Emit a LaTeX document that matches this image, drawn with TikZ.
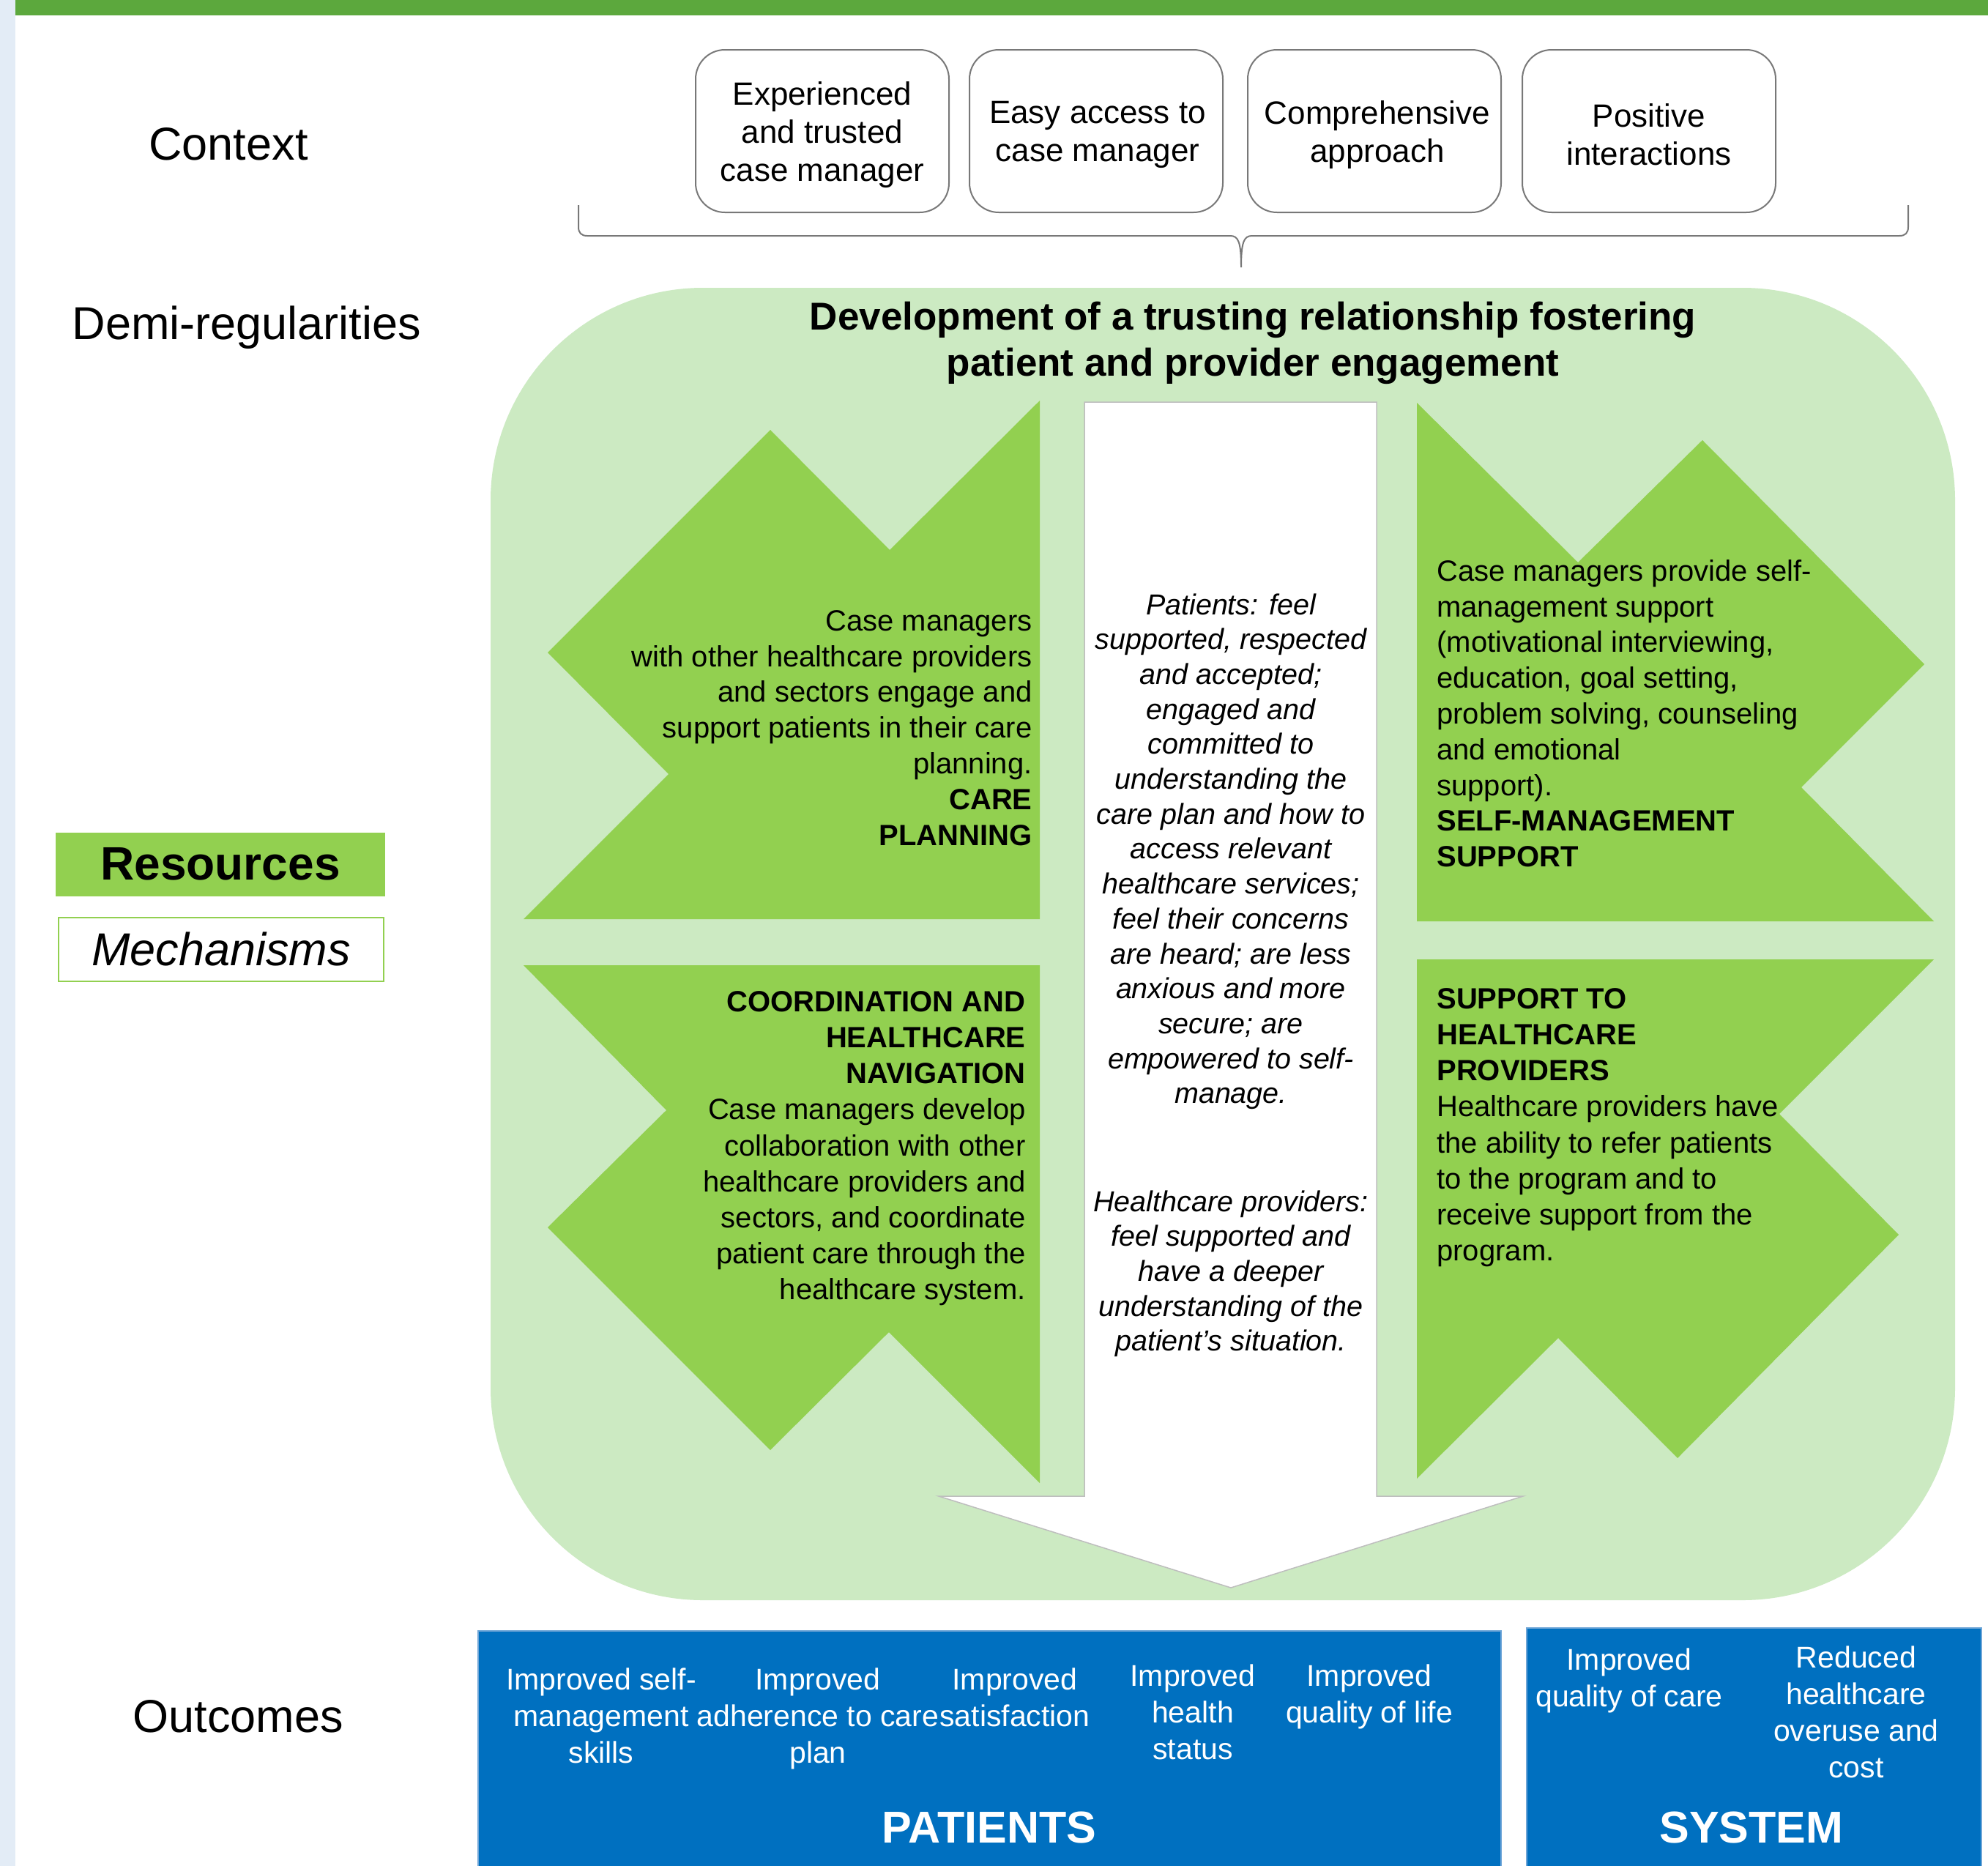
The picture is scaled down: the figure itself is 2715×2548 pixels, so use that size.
\documentclass[tikz,border=0pt]{standalone}
\usepackage{fontspec}
\setmainfont{Liberation Sans}
\definecolor{lgreen}{RGB}{204,234,194}
\definecolor{mgreen}{RGB}{146,208,80}
\definecolor{topgreen}{RGB}{92,168,61}
\definecolor{stripblue}{RGB}{227,236,246}
\definecolor{outblue}{RGB}{0,112,192}
\definecolor{outedge}{RGB}{110,165,215}
\definecolor{ctxgray}{RGB}{120,120,120}
\definecolor{shaftgray}{RGB}{190,190,190}
\tikzset{
  lbl/.style={inner sep=0, font=\fontsize{31.5}{38}\selectfont},
  ctxbox/.style={draw=ctxgray, line width=1pt, rounded corners=20pt, minimum width=173pt, minimum height=111pt, inner sep=0},
  ctxtxt/.style={inner sep=0, align=center, font=\fontsize{22}{26}\selectfont},
  gtxt/.style={inner sep=0, font=\fontsize{20}{24.4}\selectfont},
  itxt/.style={inner sep=0, align=center, font=\fontsize{19.75}{23.85}\selectfont\itshape},
  otxt/.style={inner sep=0, align=center, text=white, font=\fontsize{20.5}{25}\selectfont},
  obig/.style={inner sep=0, text=white, font=\fontsize{30.5}{36}\selectfont\bfseries},
  gshape/.style={fill=mgreen},
  outbox/.style={fill=outblue, draw=outedge, line width=0.75pt},
}
\begin{document}
\begin{tikzpicture}[x=0.5pt,y=-0.5pt]
\useasboundingbox (0,0) rectangle (2715,2548);
\fill[white] (0,0) rectangle (2715,2548);
\fill[stripblue] (0,0) rectangle (21,2548);
\fill[topgreen] (21,0) rectangle (2715,21);

% side labels
\node[lbl, anchor=base] (ctxlbl) at (312,218) {Context};
\node[lbl, anchor=base] (demilbl) at (337,463) {Demi-regularities};
\node[lbl, anchor=base] (outlbl) at (325,2365) {Outcomes};

% context boxes
\node[ctxbox] (c1) at (1123,179) {};
\node[ctxbox] (c2) at (1497,179) {};
\node[ctxbox] (c3) at (1877,179) {};
\node[ctxbox] (c4) at (2252,179) {};
\node[ctxtxt] (c1t) at ([yshift=-2.5pt]c1.center) {Experienced\\and trusted\\case manager};
\node[ctxtxt] (c2t) at ([xshift=1pt,yshift=-2.5pt]c2.center) {Easy access to\\case manager};
\node[ctxtxt] (c3t) at ([xshift=2pt,yshift=-2.5pt]c3.center) {Comprehensive\\approach};
\node[ctxtxt] (c4t) at ([yshift=-2.5pt]c4.center) {Positive\\interactions};

% brace
\draw[ctxgray, line width=1pt] (790,280) -- (790,310) .. controls (790,318) and (794,322) .. (802,322)
  -- (1680,322) .. controls (1691,322) and (1695,330) .. (1695,365)
  .. controls (1695,330) and (1699,322) .. (1710,322)
  -- (2594,322) .. controls (2602,322) and (2606,318) .. (2606,310) -- (2606,280);

% big region
\fill[lgreen, rounded corners=145pt] (670,393) rectangle (2670,2185);

% green shapes
\fill[gshape] (1420,547) -- (1420,1255) -- (715,1255) -- (913,1057) -- (748,891) -- (1052,587) -- (1215,751) -- cycle;
\fill[gshape] (1935,550) -- (2155,768) -- (2325,601) -- (2628,907) -- (2460,1075) -- (2641,1258) -- (1935,1258) -- cycle;
\fill[gshape] (715,1318) -- (1420,1318) -- (1420,2025) -- (1214,1819) -- (1052,1980) -- (748,1676) -- (910,1516) -- cycle;
\fill[gshape] (1935,1310) -- (2641,1310) -- (2430,1521) -- (2593,1686) -- (2291,1991) -- (2128,1827) -- (1935,2019) -- cycle;

% white arrow
\draw[fill=white, draw=shaftgray, line width=0.75pt] (1481,549) -- (1880,549) -- (1880,2043) -- (2080,2043) -- (1681,2168) -- (1282,2043) -- (1481,2043) -- cycle;

% title
\node[inner sep=0, anchor=north, align=center, font=\fontsize{26.5}{31.5}\selectfont\bfseries] (title) at (1711,412)
  {Development of a trusting relationship fostering\\patient and provider engagement};

% green texts
\node[gtxt, anchor=north east, align=right] (cptext) at (1410,833)
  {Case managers\\with other healthcare providers\\and sectors engage and\\support patients in their care\\planning.\\\textbf{CARE}\\\textbf{PLANNING}};
\node[gtxt, anchor=north west, align=left] (smtext) at (1962,764)
  {Case managers provide self-\\management support\\(motivational interviewing,\\education, goal setting,\\problem solving, counseling\\and emotional\\support).\\\textbf{SELF-MANAGEMENT}\\\textbf{SUPPORT}};
\node[gtxt, anchor=north east, align=right, font=\fontsize{20}{24.6}\selectfont] (cotext) at (1401,1353)
  {\textbf{COORDINATION AND}\\\textbf{HEALTHCARE}\\\textbf{NAVIGATION}\\Case managers develop\\collaboration with other\\healthcare providers and\\sectors, and coordinate\\patient care through the\\healthcare system.};
\node[gtxt, anchor=north west, align=left, font=\fontsize{20}{24.6}\selectfont] (sptext) at (1962,1349)
  {\textbf{SUPPORT TO}\\\textbf{HEALTHCARE}\\\textbf{PROVIDERS}\\Healthcare providers have\\the ability to refer patients\\to the program and to\\receive support from the\\program.};

% central italic texts
\node[itxt, anchor=north] (pattext) at (1681,810)
  {Patients: feel\\supported, respected\\and accepted;\\engaged and\\committed to\\understanding the\\care plan and how to\\access relevant\\healthcare services;\\feel their concerns\\are heard; are less\\anxious and more\\secure; are\\empowered to self-\\manage.};
\node[itxt, anchor=north] (provtext) at (1681,1625)
  {Healthcare providers:\\feel supported and\\have a deeper\\understanding of the\\patient’s situation.};

% legend
\node[fill=mgreen, minimum width=225pt, minimum height=43.5pt, inner sep=0, font=\fontsize{32}{38}\selectfont\bfseries] (res) at (301,1180) {Resources};
\node[draw=mgreen, line width=1pt, fill=white, minimum width=222pt, minimum height=43.5pt, inner sep=0, font=\fontsize{31.5}{38}\selectfont\itshape] (mech) at (302,1296) {Mechanisms};

% outcomes
\draw[outbox] (653,2227) rectangle (2050,2560);
\draw[outbox] (2085,2223) rectangle (2706,2560);
\node[otxt, anchor=north] (o1) at (821,2277) {Improved self-\\management\\skills};
\node[otxt, anchor=north] (o2) at (1117,2277) {Improved\\adherence to care\\plan};
\node[otxt, anchor=north] (o3) at (1386,2277) {Improved\\satisfaction};
\node[otxt, anchor=north] (o4) at (1629,2272) {Improved\\health\\status};
\node[otxt, anchor=north] (o5) at (1870,2272) {Improved\\quality of life};
\node[otxt, anchor=north] (s1) at (2225,2250) {Improved\\quality of care};
\node[otxt, anchor=north] (s2) at (2535,2247) {Reduced\\healthcare\\overuse and\\cost};
\node[obig, anchor=base] (pat) at (1351,2516) {PATIENTS};
\node[obig, anchor=base] (sys) at (2392,2516) {SYSTEM};
\end{tikzpicture}
\end{document}
